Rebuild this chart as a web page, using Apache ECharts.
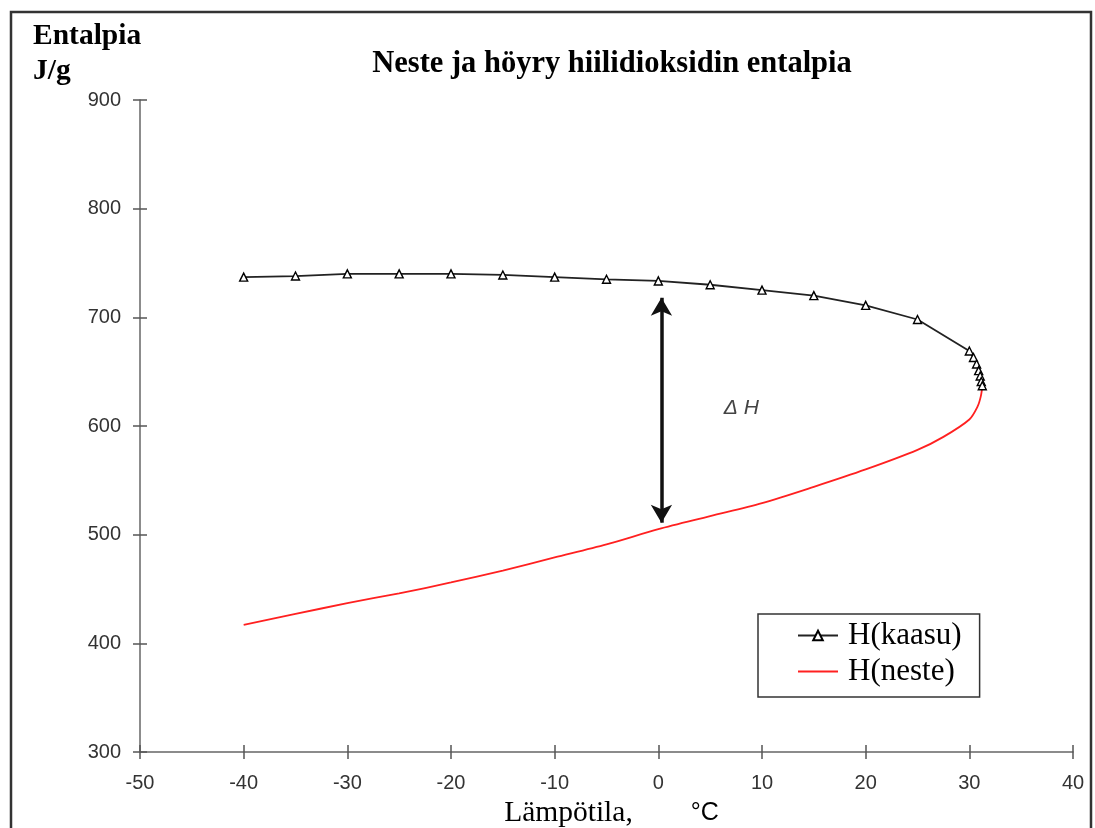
<!DOCTYPE html>
<html>
<head>
<meta charset="utf-8">
<script src="https://cdn.jsdelivr.net/npm/echarts@6/dist/echarts.min.js"></script>
<style>
  html, body { margin: 0; padding: 0; background: #fff; }
  #chart { width: 1095px; height: 828px; }
</style>
</head>
<body>
<div id="chart"></div>
<script>
// Temperature (°C) and enthalpy (J/g) of saturated CO2 vapour
const gasTemp = [-40, -35, -30, -25, -20, -15, -10, -5, 0, 5, 10, 15, 20, 25, 30, 30.4, 30.7, 30.9, 31.05, 31.15, 31.25];
const gasH    = [737, 738, 740, 740, 740, 739, 737, 735, 733.5, 730, 725, 720, 711, 698, 669, 663, 657, 651, 646, 641, 637];

// Temperature (°C) and enthalpy (J/g) of saturated CO2 liquid
const liqTemp = [-40, -35, -30, -25, -20, -15, -10, -5, 0, 5, 10, 15, 20, 25, 27.5, 30, 30.8, 31.1, 31.25];
const liqH    = [417, 427, 437, 446, 456, 467, 479, 491, 505, 517, 529, 544, 560, 578, 590, 606, 618, 627, 636];

// Enthalpy of vaporisation marker at about 0 °C
const deltaArrow = { temp: 0.3, top: 718, bottom: 511 };
const deltaLabel = { temp: 8, h: 616, text: 'Δ H' };

const xTicks = { min: -50, max: 40, step: 10 };
const yTicks = { min: 300, max: 900, step: 100 };

const seriesNames = ['H(kaasu)', 'H(neste)'];

const pairs = (xs, ys) => xs.map((x, i) => [x, ys[i]]);

const sans = '"Liberation Sans", Arial, sans-serif';
const serif = '"Liberation Serif", "Times New Roman", serif';

const chart = echarts.init(document.getElementById('chart'), null, { renderer: 'canvas' });

// Extra axes that only draw the inner half of each tick, so ticks cross the axis line
const tickAxisBase = {
  type: 'value',
  gridIndex: 0,
  axisLine: { show: false, onZero: false },
  axisLabel: { show: false },
  splitLine: { show: false },
  axisTick: { show: true, inside: true, length: 7, lineStyle: { color: '#555', width: 1.5 } }
};

chart.setOption({
  animation: false,
  backgroundColor: '#fff',
  title: [
    {
      text: 'Neste ja höyry hiilidioksidin entalpia',
      left: 607, top: 44, textAlign: 'center',
      textStyle: { fontFamily: serif, fontWeight: 'bold', fontSize: 30.5, color: '#000' }
    },
    {
      text: 'Entalpia\nJ/g',
      left: 28, top: 14,
      textStyle: { fontFamily: serif, fontWeight: 'bold', fontSize: 29.5, lineHeight: 35, color: '#000' }
    }
  ],
  grid: { left: 140, right: 22, top: 100, bottom: 76, containLabel: false, outerBoundsMode: 'none' },
  legend: {
    orient: 'vertical',
    left: 758, top: 614,
    padding: [6, 18, 10, 39],
    itemWidth: 40, itemHeight: 12, itemGap: 5,
    backgroundColor: '#fff',
    borderColor: '#333', borderWidth: 1.5,
    data: [
      { name: seriesNames[0] },
      { name: seriesNames[1], itemStyle: { color: 'rgba(0,0,0,0)', borderWidth: 0, opacity: 0 } }
    ],
    textStyle: { fontFamily: serif, fontSize: 31, lineHeight: 30, color: '#000', padding: [0, 0, 0, 5] }
  },
  xAxis: [
    {
      type: 'value',
      min: xTicks.min, max: xTicks.max, interval: xTicks.step,
      axisLine: { show: true, onZero: false, lineStyle: { color: '#666', width: 1.5 } },
      axisTick: { show: true, length: 7, lineStyle: { color: '#555', width: 1.5 } },
      axisLabel: { fontFamily: sans, fontSize: 20, color: '#333', margin: 21 },
      splitLine: { show: false },
      name: 'Lämpötila,{g|}{c|°C}',
      nameLocation: 'middle',
      nameGap: 38,
      nameTextStyle: {
        fontFamily: serif, fontSize: 29.5, color: '#000',
        padding: [0, 0, 0, 10],
        rich: {
          g: { width: 58 },
          c: { fontFamily: sans, fontSize: 25, color: '#000' }
        }
      }
    },
    Object.assign({}, tickAxisBase, { min: xTicks.min, max: xTicks.max, interval: xTicks.step, position: 'bottom' })
  ],
  yAxis: [
    {
      type: 'value',
      min: yTicks.min, max: yTicks.max, interval: yTicks.step,
      axisLine: { show: true, onZero: false, lineStyle: { color: '#666', width: 1.5 } },
      axisTick: { show: true, length: 7, lineStyle: { color: '#555', width: 1.5 } },
      axisLabel: { fontFamily: sans, fontSize: 20, color: '#333', margin: 19 },
      splitLine: { show: false }
    },
    Object.assign({}, tickAxisBase, { min: yTicks.min, max: yTicks.max, interval: yTicks.step, position: 'left' })
  ],
  series: [
    {
      name: seriesNames[0],
      type: 'line',
      xAxisIndex: 0, yAxisIndex: 0,
      data: pairs(gasTemp, gasH),
      symbol: 'triangle',
      symbolSize: 8,
      showSymbol: true,
      lineStyle: { color: '#222', width: 1.8 },
      itemStyle: { color: '#fff', borderColor: '#000', borderWidth: 1.4 },
      emphasis: { disabled: true },
      markLine: {
        silent: true,
        symbol: ['arrow', 'arrow'],
        symbolSize: [16, 18],
        lineStyle: { color: '#111', width: 3.5, type: 'solid' },
        label: { show: false },
        data: [[
          { coord: [deltaArrow.temp, deltaArrow.top] },
          { coord: [deltaArrow.temp, deltaArrow.bottom] }
        ]]
      }
    },
    {
      name: seriesNames[1],
      type: 'line',
      xAxisIndex: 0, yAxisIndex: 0,
      data: pairs(liqTemp, liqH),
      symbol: 'none',
      smooth: 0.3,
      lineStyle: { color: '#ff2020', width: 1.8 },
      itemStyle: { color: '#ff2020' },
      emphasis: { disabled: true },
      markPoint: {
        silent: true,
        symbol: 'circle',
        symbolSize: 1,
        itemStyle: { color: 'rgba(0,0,0,0)' },
        label: {
          show: true, position: 'inside',
          formatter: deltaLabel.text,
          fontFamily: sans, fontStyle: 'italic', fontSize: 21, color: '#444'
        },
        data: [{ coord: [deltaLabel.temp, deltaLabel.h] }]
      }
    }
  ],
  graphic: [
    {
      type: 'rect',
      silent: true,
      shape: { x: 11, y: 12, width: 1080, height: 830 },
      style: { fill: 'none', stroke: '#333', lineWidth: 2.5 },
      z: 100
    }
  ]
});
</script>
</body>
</html>
